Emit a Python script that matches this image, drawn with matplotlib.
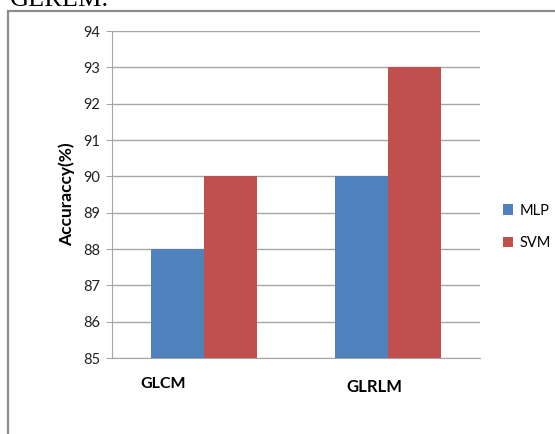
import matplotlib
matplotlib.use("Agg")
import matplotlib.pyplot as plt
from matplotlib.patches import Rectangle

categories = ["GLCM", "GLRLM"]
mlp = [88, 90]
svm = [90, 93]
series_names = ["MLP", "SVM"]
yticks = [85, 86, 87, 88, 89, 90, 91, 92, 93, 94]

W, H = 555, 434
fig = plt.figure(figsize=(W / 100, H / 100), dpi=100)
fig.patch.set_facecolor("white")

def fx(px):
    return px / W

def fy(py):
    return 1 - py / H

# outer frame
fig.add_artist(Rectangle((fx(8), fy(434 + 5)), fx(560) - fx(8), fy(11) - fy(439),
                         transform=fig.transFigure, fill=False,
                         edgecolor="#8c8c8c", linewidth=1.6))

# cut-off caption text at the top
fig.text(fx(10), fy(5.5), "GLRLM.", family="Liberation Serif", fontsize=19,
         ha="left", va="baseline", color="black")

ax = fig.add_axes([fx(112), fy(358), fx(480) - fx(112), fy(31) - fy(358)])
blue = "#4F81BD"
red = "#C0504D"
w = 0.288
xs = list(range(len(categories)))
ax.bar([x - w / 2 for x in xs], mlp, width=w, color=blue, label=series_names[0], zorder=3)
ax.bar([x + w / 2 for x in xs], svm, width=w, color=red, label=series_names[1], zorder=3)
ax.set_xlim(-0.5, 1.5)
ax.set_ylim(85, 94)
ax.set_yticks(yticks)
ax.set_yticklabels([str(v) for v in yticks], family="Lato", fontsize=10.5)
ax.set_xticks([])
ax.grid(axis="y", color="#a6a6a6", linewidth=1.0, zorder=0)
for s in ["top", "right"]:
    ax.spines[s].set_visible(False)
ax.spines["left"].set_color("#a6a6a6")
ax.spines["bottom"].set_color("#a6a6a6")
ax.spines["left"].set_zorder(4)
ax.tick_params(axis="y", length=4.5, color="#a6a6a6", pad=4, labelcolor="#222222")
ax.set_ylabel("Accuraccy(%)", family="Lato", fontweight="bold", fontsize=12.5, labelpad=6)

# category labels
fig.text(fx(163.5), fy(384), categories[0], family="Lato", fontweight="bold", fontsize=11.5,
         ha="center", va="center")
fig.text(fx(374), fy(387.5), categories[1], family="Lato", fontweight="bold", fontsize=12,
         ha="center", va="center")

leg = ax.legend(loc="center left", bbox_to_anchor=(fx(490), fy(227)), bbox_transform=fig.transFigure,
                frameon=False, prop={"family": "Lato", "size": 10.5}, handlelength=0.7,
                handleheight=0.7, handletextpad=0.4, labelspacing=1.3)

fig.savefig("out.png", dpi=100)
